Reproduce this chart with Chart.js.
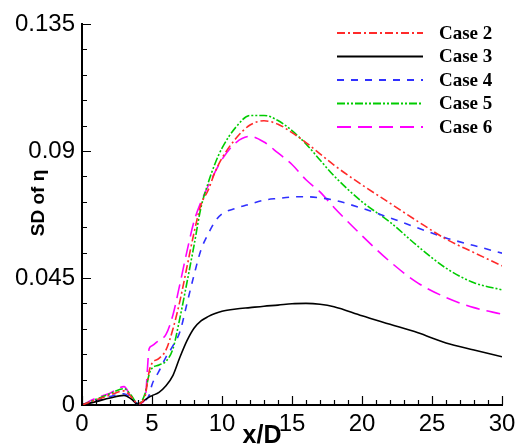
<!DOCTYPE html>
<html>
<head>
<meta charset="utf-8">
<script src="https://cdn.jsdelivr.net/npm/chart.js@4/dist/chart.umd.min.js"></script>
<style>
   body { margin: 0; background: #fff; }
   #wrap { width: 516px; height: 448px; }
</style>
</head>
<body>
<div id="wrap"><canvas id="myChart" width="516" height="448"></canvas></div>
<script>
// x/D stations shared by all cases
const xD = [0, 1, 2, 3, 3.5, 4, 4.5, 4.8, 5, 5.5, 6, 6.5, 7, 7.5, 8, 8.5, 9, 9.5, 10, 11, 12, 13, 14, 15, 16, 17, 18, 20, 22, 24, 26, 28, 30];

const case2 = [0, 0.0018, 0.0035, 0.005, 0.003, 0.0005, 0.003, 0.012, 0.0148, 0.0165, 0.0195, 0.027, 0.037, 0.049, 0.061, 0.071, 0.076, 0.0825, 0.0875, 0.0945, 0.0992, 0.1007, 0.0995, 0.0965, 0.093, 0.089, 0.085, 0.078, 0.0715, 0.065, 0.0588, 0.054, 0.0493];
const case3 = [0, 0.0012, 0.0025, 0.0034, 0.0022, 0.0003, 0.0018, 0.0028, 0.0033, 0.0045, 0.0068, 0.0105, 0.017, 0.0228, 0.0272, 0.0298, 0.0313, 0.0324, 0.0332, 0.034, 0.0345, 0.035, 0.0354, 0.0359, 0.036, 0.0357, 0.0348, 0.0316, 0.0286, 0.0256, 0.022, 0.0195, 0.0171];
const case4 = [0, 0.0015, 0.003, 0.004, 0.0025, 0.0004, 0.0015, 0.0035, 0.0072, 0.012, 0.017, 0.021, 0.026, 0.036, 0.046, 0.055, 0.0605, 0.065, 0.0677, 0.0697, 0.0712, 0.0726, 0.0732, 0.0737, 0.0738, 0.0734, 0.0726, 0.0697, 0.0663, 0.0627, 0.0592, 0.0565, 0.0538];
const case5 = [0, 0.002, 0.004, 0.0058, 0.0035, 0.0005, 0.004, 0.011, 0.013, 0.0142, 0.0155, 0.02, 0.031, 0.0435, 0.0565, 0.07, 0.0785, 0.0855, 0.091, 0.0985, 0.1026, 0.1026, 0.1008, 0.0972, 0.0925, 0.0868, 0.0812, 0.072, 0.0648, 0.0562, 0.0485, 0.0433, 0.0408];
const case6 = [0, 0.0024, 0.0042, 0.0065, 0.003, 0.0004, 0.002, 0.02, 0.021, 0.023, 0.025, 0.032, 0.043, 0.0545, 0.065, 0.072, 0.0775, 0.0825, 0.087, 0.093, 0.0952, 0.0932, 0.0893, 0.0852, 0.0798, 0.0755, 0.07, 0.06, 0.0508, 0.0432, 0.0381, 0.0345, 0.0322];

const caseNames = ['Case 2', 'Case 3', 'Case 4', 'Case 5', 'Case 6'];
const caseColors = ['#ff2a2a', '#000000', '#3030ff', '#00cc00', '#ff00ff'];
const caseDashes = [[8, 3, 2, 3], [], [7, 7], [8, 2, 2, 2, 2, 2], [14, 7]];
const caseValues = [case2, case3, case4, case5, case6];

const yMajor = 0.045;

const datasets = caseValues.map((vals, i) => ({
   label: caseNames[i],
   data: xD.map((x, k) => ({x: x, y: vals[k]})),
   borderColor: caseColors[i],
   borderWidth: 1.6,
   borderDash: caseDashes[i],
   pointRadius: 0,
   fill: false,
   cubicInterpolationMode: 'monotone',
}));

// inward tick marks + legend + axis titles
const decorPlugin = {
   id: 'decor',
   afterDraw(chart) {
      const ctx = chart.ctx;
      const xs = chart.scales.x, ys = chart.scales.y;
      const area = chart.chartArea;
      ctx.save();
      ctx.strokeStyle = '#000';
      ctx.lineWidth = 1.2;
      ctx.beginPath();
      for (let v = 0; v <= 30; v++) {
         const px = Math.round(xs.getPixelForValue(v)) + 0.5;
         const len = v % 5 === 0 ? 9 : 5;
         ctx.moveTo(px, area.bottom);
         ctx.lineTo(px, area.bottom - len);
      }
      for (let i = 0; i <= 15; i++) {
         const py = Math.round(ys.getPixelForValue(i * 0.009)) + 0.5;
         const len = i % 5 === 0 ? 9 : 5;
         ctx.moveTo(area.left, py);
         ctx.lineTo(area.left + len, py);
      }
      ctx.stroke();

      // legend
      chart.data.datasets.forEach((ds, i) => {
         const y = 33 + i * 23.5;
         ctx.strokeStyle = ds.borderColor;
         ctx.lineWidth = 1.8;
         ctx.setLineDash(ds.borderDash);
         ctx.beginPath();
         ctx.moveTo(337, y);
         ctx.lineTo(423, y);
         ctx.stroke();
         ctx.setLineDash([]);
         ctx.fillStyle = '#000';
         ctx.font = 'bold 19px "Liberation Serif"';
         ctx.textAlign = 'left';
         ctx.textBaseline = 'middle';
         ctx.fillText(ds.label, 439, y + 1);
      });

      // axis titles, placed as in the reference
      ctx.fillStyle = '#000';
      ctx.textAlign = 'center';
      ctx.textBaseline = 'middle';
      ctx.font = 'bold 25px "Liberation Sans"';
      ctx.fillText('x/D', 262, 436);
      ctx.translate(39, 203);
      ctx.rotate(-Math.PI / 2);
      ctx.font = 'bold 19px "Liberation Sans"';
      ctx.fillText('SD of η', 0, 0);
      ctx.restore();
   }
};

const ctx = document.getElementById('myChart').getContext('2d');
new Chart(ctx, {
   type: 'line',
   data: {datasets: datasets},
   options: {
      responsive: false,
      animation: false,
      devicePixelRatio: 1,
      layout: {padding: {left: 0, top: 24, right: 14, bottom: 0}},
      plugins: {legend: {display: false}, tooltip: {enabled: false}},
      scales: {
         x: {
            type: 'linear',
            min: 0, max: 30,
            grid: {display: false, drawTicks: false},
            border: {display: true, color: '#000', width: 2},
            ticks: {
               stepSize: 1,
               autoSkip: false,
               maxRotation: 0,
               padding: 5,
               color: '#000',
               font: {family: '"Liberation Sans"', size: 24},
               callback: v => (v % 5 === 0 ? String(v) : ''),
            },
            afterFit: s => { s.height = 43; s.paddingLeft = 0; s.paddingRight = 0; },
         },
         y: {
            min: 0, max: 0.135,
            grid: {display: false, drawTicks: false},
            border: {display: true, color: '#000', width: 2},
            ticks: {
               stepSize: 0.009,
               autoSkip: false,
               padding: 7,
               color: '#000',
               font: {family: '"Liberation Sans"', size: 24},
               callback: v => {
                  const r = v / yMajor;
                  if (Math.abs(r - Math.round(r)) > 1e-6) return '';
                  return v === 0 ? '0' : String(+v.toFixed(3));
               },
            },
            afterFit: s => { s.width = 82; },
         },
      },
   },
   plugins: [decorPlugin],
});
</script>
</body>
</html>
